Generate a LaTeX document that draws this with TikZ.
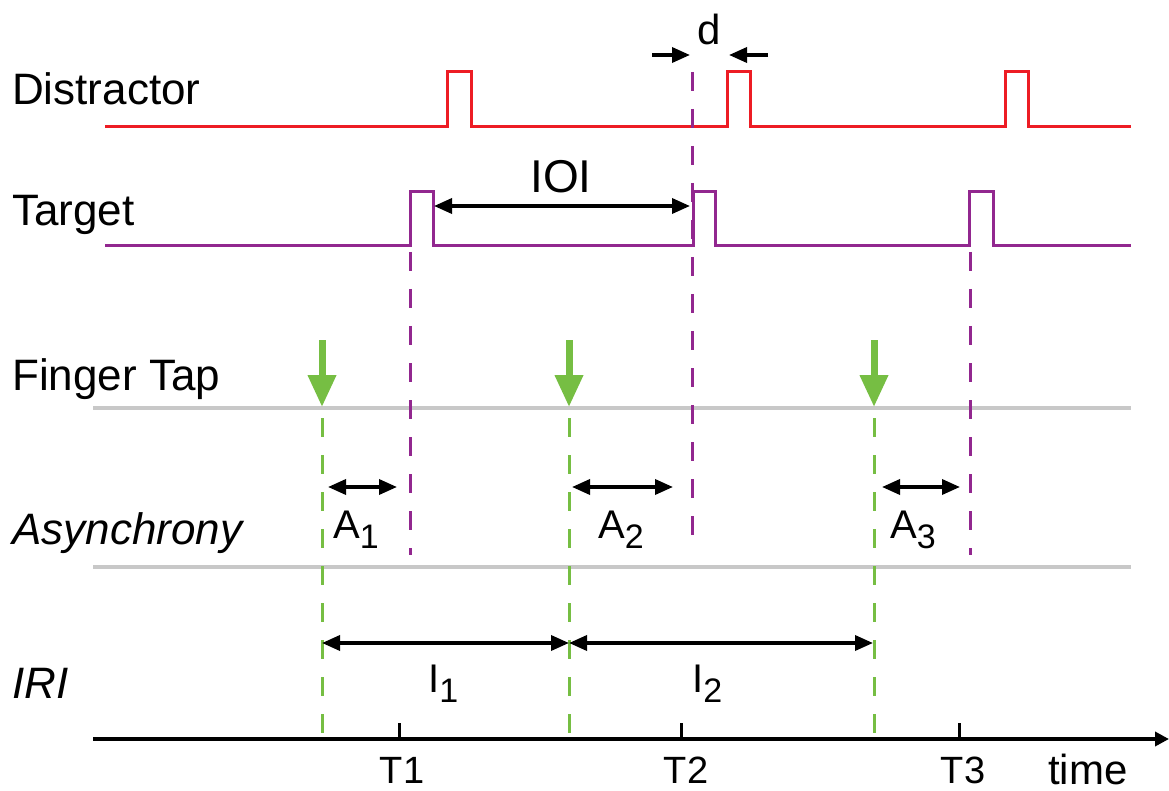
\documentclass[tikz,border=0pt]{standalone}
\usepackage{fontspec}
\setmainfont{Liberation Sans}
\usetikzlibrary{arrows.meta}
\definecolor{dred}{RGB}{237,28,36}
\definecolor{dpurple}{RGB}{146,39,143}
\definecolor{dgreen}{RGB}{118,190,67}
\definecolor{dgray}{RGB}{200,200,200}
\newcommand\subx[1]{\raisebox{-10pt}{\fontsize{34}{36}\selectfont #1}}
\begin{document}
\begin{tikzpicture}[x=1pt,y=-1pt,
  lbl/.style={anchor=base west, inner sep=0pt, font=\fontsize{44}{48}\selectfont},
  tlbl/.style={anchor=base, inner sep=0pt, font=\fontsize{38}{40}\selectfont},
  albl/.style={anchor=base west, inner sep=0pt, font=\fontsize{40}{44}\selectfont},
  sig/.style={line width=3pt, line join=miter},
  pdash/.style={dpurple, line width=3pt, dash pattern=on 19pt off 18pt},
  gdash/.style={dgreen, line width=3pt, dash pattern=on 19pt off 18pt},
  dimarrow/.style={line width=3.5pt, {Triangle[length=18pt,width=15pt]}-{Triangle[length=18pt,width=15pt]}},
  onearrow/.style={line width=3.5pt, -{Triangle[length=18pt,width=15pt]}},
  tap/.style={dgreen, line width=7pt, -{Triangle[length=32pt,width=27pt]}},
  grayline/.style={dgray, line width=4pt},
]
\useasboundingbox (0,0) rectangle (1169,791);

% labels
\node[lbl] (ldis) at (12,105) {Distractor};
\node[lbl] (ltar) at (12,226) {Target};
\node[lbl] (lfin) at (12,390) {Finger Tap};
\node[lbl] (lasy) at (12,544) {\itshape Asynchrony};
\node[lbl] (liri) at (12,698) {\itshape IRI};

% signals
\draw[sig, dred] (105,127) -- (447,127) -- (447,72) -- (471,72) -- (471,127)
  -- (727,127) -- (727,72) -- (750,72) -- (750,127)
  -- (1005,127) -- (1005,72) -- (1028,72) -- (1028,127) -- (1131,127);
\draw[sig, dpurple] (105,246) -- (410,246) -- (410,192) -- (433,192) -- (433,246)
  -- (693,246) -- (693,192) -- (715,192) -- (715,246)
  -- (969,246) -- (969,192) -- (993,192) -- (993,246) -- (1131,246);

% gray rows
\coordinate (g1a) at (93,408); \coordinate (g1b) at (1131,408);
\coordinate (g2a) at (93,567); \coordinate (g2b) at (1131,567);
\draw[grayline] (g1a) -- (g1b);
\draw[grayline] (g2a) -- (g2b);

% purple dashed
\coordinate (p1t) at (410,252); \coordinate (p1b) at (410,555);
\coordinate (p2t) at (692,72);  \coordinate (p2b) at (692,540);
\coordinate (p3t) at (970,252); \coordinate (p3b) at (970,555);
\draw[pdash] (p1t) -- (p1b);
\draw[pdash] (p2t) -- (p2b);
\draw[pdash] (p3t) -- (p3b);

% green dashed
\coordinate (q1t) at (322,418); \coordinate (q1b) at (322,739);
\coordinate (q2t) at (569,418); \coordinate (q2b) at (569,739);
\coordinate (q3t) at (874,418); \coordinate (q3b) at (874,739);
\draw[gdash] (q1t) -- (q1b);
\draw[gdash] (q2t) -- (q2b);
\draw[gdash] (q3t) -- (q3b);

% taps
\coordinate (t1s) at (322,340); \coordinate (t1e) at (322,407);
\coordinate (t2s) at (569,340); \coordinate (t2e) at (569,407);
\coordinate (t3s) at (874,340); \coordinate (t3e) at (874,407);
\draw[tap] (t1s) -- (t1e);
\draw[tap] (t2s) -- (t2e);
\draw[tap] (t3s) -- (t3e);

% d
\coordinate (dl1) at (652,55); \coordinate (dl2) at (690,55);
\coordinate (dr1) at (768,55); \coordinate (dr2) at (729,55);
\draw[onearrow] (dl1) -- (dl2);
\draw[onearrow] (dr1) -- (dr2);
\node[anchor=base, inner sep=0pt, font=\fontsize{42}{46}\selectfont] (dlab) at (709,45) {d};

% IOI
\coordinate (ioa) at (434,206); \coordinate (iob) at (690,206);
\draw[dimarrow] (ioa) -- (iob);
\node[anchor=base, inner sep=0pt, font=\fontsize{46}{50}\selectfont] (ioi) at (561,193) {IOI};

% asynchronies
\coordinate (a1a) at (328,487); \coordinate (a1b) at (397,487);
\coordinate (a2a) at (572,487); \coordinate (a2b) at (673,487);
\coordinate (a3a) at (882,487); \coordinate (a3b) at (960,487);
\draw[dimarrow] (a1a) -- (a1b);
\draw[dimarrow] (a2a) -- (a2b);
\draw[dimarrow] (a3a) -- (a3b);
\node[albl] (A1) at (333,538) {A\subx{1}};
\node[albl] (A2) at (598,538) {A\subx{2}};
\node[albl] (A3) at (890,538) {A\subx{3}};

% IRI
\coordinate (i1a) at (322,643); \coordinate (i1b) at (569,643);
\coordinate (i2b) at (873,643);
\draw[dimarrow] (i1a) -- (i1b);
\draw[dimarrow] (i1b) -- (i2b);
\node[albl] (I1) at (428,692) {I\subx{1}};
\node[albl] (I2) at (692,692) {I\subx{2}};

% time axis
\coordinate (ax0) at (93,739); \coordinate (ax1) at (1169,739);
\draw[line width=3.5pt, -{Triangle[length=14pt,width=14pt]}] (ax0) -- (ax1);
\foreach \x/\n in {399/1,681/2,959/3}{
  \coordinate (tk\n a) at (\x,723); \coordinate (tk\n b) at (\x,739);
  \draw[line width=3pt] (tk\n a) -- (tk\n b);
}
\node[tlbl] (T1) at (402,783) {T1};
\node[tlbl] (T2) at (686,783) {T2};
\node[tlbl] (T3) at (963,783) {T3};
\node[lbl, font=\fontsize{42}{46}\selectfont] (time) at (1048,784) {time};
\end{tikzpicture}
\end{document}
